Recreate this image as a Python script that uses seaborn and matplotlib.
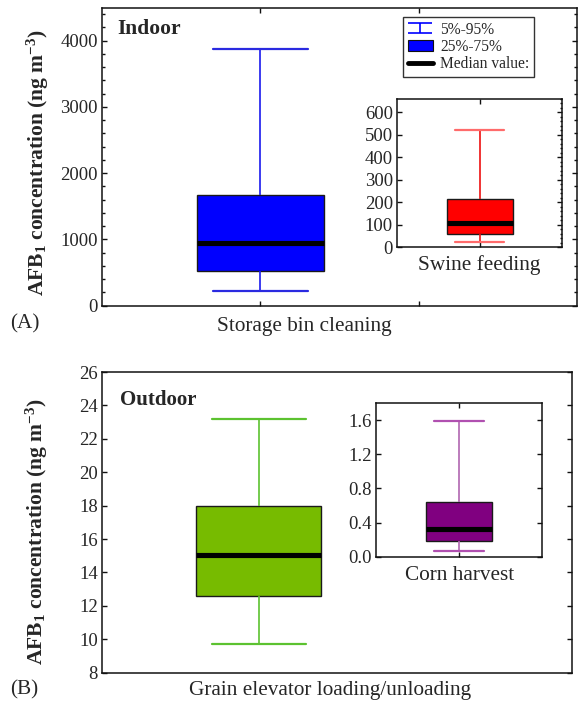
import numpy as np
import pandas as pd
import matplotlib
matplotlib.use("Agg")
import matplotlib.pyplot as plt
import seaborn as sns
from matplotlib.path import Path
from matplotlib.lines import Line2D
from matplotlib.patches import Patch
from matplotlib.ticker import MultipleLocator, FixedLocator

# ---- data: box summary values (5th pct, 25th pct, median, 75th pct, 95th pct)
indoor_label = "Storage bin cleaning"
indoor_stats = [223, 524, 945, 1665, 3878]
swine_label = "Swine feeding"
swine_stats = [21, 57, 109, 212, 520]
outdoor_label = "Grain elevator loading/unloading"
outdoor_stats = [9.7, 12.6, 15.03, 17.95, 23.2]
corn_label = "Corn harvest"
corn_stats = [0.07, 0.18, 0.33, 0.64, 1.59]

legend_labels = ["5%-95%", "25%-75%", "Median value:"]
ylabel = r"AFB$_\mathbf{1}$ concentration (ng m$^\mathbf{-3}$)"

sns.set_style("ticks")
plt.rcParams["font.family"] = ["Liberation Serif", "DejaVu Serif"]
plt.rcParams["mathtext.fontset"] = "custom"
plt.rcParams["mathtext.rm"] = "Liberation Serif:bold"
plt.rcParams["mathtext.bf"] = "Liberation Serif:bold"
plt.rcParams["mathtext.it"] = "Liberation Serif:italic:bold"
plt.rcParams["axes.linewidth"] = 1.1
plt.rcParams["axes.edgecolor"] = "#111111"

W, H = 579, 703
LABEL_FS = 15.3
TICK_FS = 13.5
fig = plt.figure(figsize=(W / 100, H / 100), dpi=100)


def px_axes(x0, y0, x1, y1):
    return fig.add_axes([x0 / W, 1 - y1 / H, (x1 - x0) / W, (y1 - y0) / H])


def draw_box(ax, label, stats, face, whisk, capc):
    df = pd.DataFrame({"cat": [label] * len(stats), "val": stats})
    sns.boxplot(data=df, x="cat", y="val", ax=ax, whis=(0, 100), width=0.8,
                color=face, saturation=1, linewidth=1.0, linecolor="#1a1a1a",
                showfliers=False, capwidths=0.6,
                whiskerprops=dict(color=whisk, linewidth=1.2),
                capprops=dict(color=capc, linewidth=1.6),
                medianprops=dict(color="black", linewidth=3.7))
    ax.set_xlabel("")
    ax.set_ylabel("")


def style_ticks(ax, fs=TICK_FS):
    ax.tick_params(axis="both", which="both", direction="in", top=True, right=True,
                   left=True, bottom=True, labelsize=fs, pad=3, width=1.0,
                   color="#111111")
    ax.tick_params(which="major", length=3.5)
    ax.tick_params(which="minor", length=2)
    for s in ax.spines.values():
        s.set_visible(True)


# ---------------- Panel A ----------------
axA = px_axes(102, 7.5, 577, 305.5)
draw_box(axA, indoor_label, indoor_stats, "#0000ff", "#1a1aee", "#2a2ae0")
axA.set_xlim(-1, 2)
axA.set_ylim(0, 4500)
axA.xaxis.set_major_locator(FixedLocator([0, 1]))
axA.set_xticklabels([])
axA.yaxis.set_major_locator(FixedLocator([0, 1000, 2000, 3000, 4000]))
axA.yaxis.set_minor_locator(MultipleLocator(200))
style_ticks(axA)
axA.set_ylabel(ylabel, fontsize=15.5, fontweight="bold")
axA.yaxis.set_label_coords(-0.107, 0.478)
fig.text(117 / W, 1 - 29 / H, "Indoor", fontsize=15.5,
         fontweight="bold", va="center", ha="left")

handle_I = Path([(-1, 0.45), (1, 0.45), (0, 0.45), (0, -0.45), (-1, -0.45), (1, -0.45)],
                [Path.MOVETO, Path.LINETO, Path.MOVETO, Path.LINETO, Path.MOVETO, Path.LINETO])
handles = [
    Line2D([], [], color="#0000ff", marker=handle_I, markersize=17, linestyle="None",
           markeredgewidth=1.2),
    Patch(facecolor="#0000ff", edgecolor="#111111", linewidth=0.8),
    Line2D([], [], color="black", linewidth=3.5),
]
leg = axA.legend(handles, legend_labels, loc="upper left",
                 bbox_to_anchor=(403 / W, 1 - 17 / H), bbox_transform=fig.transFigure,
                 borderaxespad=0, fontsize=11.2, frameon=True, fancybox=False,
                 handlelength=1.6, handletextpad=0.5, labelspacing=0.08,
                 borderpad=0.3)
leg.get_frame().set_edgecolor("black")
leg.get_frame().set_linewidth(1.0)

axAi = px_axes(397, 99, 562, 247)
draw_box(axAi, swine_label, swine_stats, "#ff0000", "#ee1111", "#ff6b6b")
axAi.set_xlim(-1, 1)
axAi.set_ylim(0, 660)
axAi.xaxis.set_major_locator(FixedLocator([0]))
axAi.set_xticklabels([])
axAi.yaxis.set_major_locator(MultipleLocator(100))
axAi.yaxis.set_minor_locator(MultipleLocator(20))
style_ticks(axAi)
axAi.tick_params(which="minor", left=False, length=1.5)
fig.text(479.5 / W, 1 - 265 / H, swine_label, fontsize=LABEL_FS, ha="center", va="center")

fig.text(10 / W, 1 - 324 / H, "(A)", fontsize=LABEL_FS, ha="left", va="center")
fig.text(304 / W, 1 - 326 / H, indoor_label, fontsize=LABEL_FS, ha="center", va="center")

# ---------------- Panel B ----------------
axB = px_axes(102, 372, 572, 672.7)
draw_box(axB, outdoor_label, outdoor_stats, "#77bb00", "#5cc230", "#5cc230")
axB.set_xlim(-1, 2)
axB.set_ylim(8, 26)
axB.xaxis.set_major_locator(FixedLocator([0, 1]))
axB.set_xticklabels([])
axB.yaxis.set_major_locator(MultipleLocator(2))
style_ticks(axB)
axB.tick_params(axis="x", bottom=False, top=False)
axB.set_ylabel(ylabel, fontsize=15.5, fontweight="bold")
axB.yaxis.set_label_coords(-0.110, 0.47)
fig.text(120 / W, 1 - 400 / H, "Outdoor", fontsize=15, fontweight="bold",
         va="center", ha="left")

axBi = px_axes(376, 403, 542, 556.7)
draw_box(axBi, corn_label, corn_stats, "#800080", "#b066b0", "#b050b0")
axBi.set_xlim(-1, 1)
axBi.set_ylim(0, 1.8)
axBi.xaxis.set_major_locator(FixedLocator([0]))
axBi.set_xticklabels([])
axBi.yaxis.set_major_locator(FixedLocator([0.0, 0.4, 0.8, 1.2, 1.6]))
axBi.yaxis.set_major_formatter(plt.FormatStrFormatter("%.1f"))
style_ticks(axBi)
fig.text(460 / W, 1 - 575 / H, corn_label, fontsize=LABEL_FS, ha="center", va="center")

fig.text(10 / W, 1 - 690 / H, "(B)", fontsize=LABEL_FS, ha="left", va="center")
fig.text(330 / W, 1 - 690 / H, outdoor_label, fontsize=LABEL_FS, ha="center", va="center")

fig.savefig("out.png", dpi=100)
